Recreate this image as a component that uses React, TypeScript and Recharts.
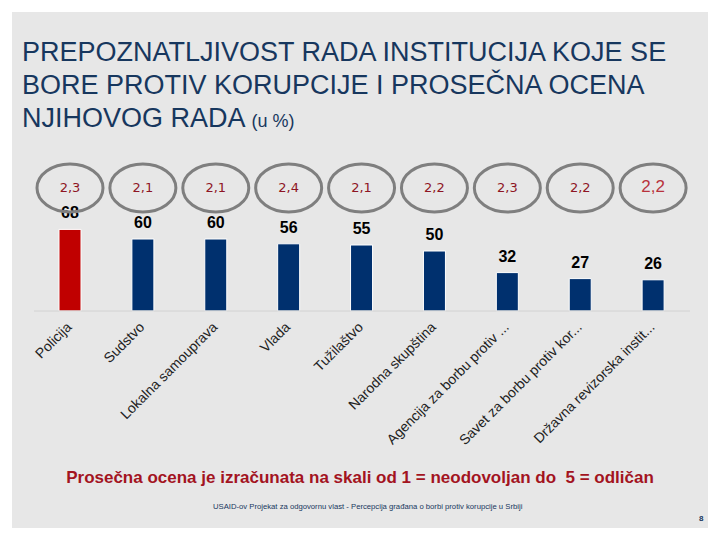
import { BarChart, Bar, XAxis, YAxis, Cell, LabelList } from 'recharts';

const CATEGORIES = [
  'Policija',
  'Sudstvo',
  'Lokalna samouprava',
  'Vlada',
  'Tužilaštvo',
  'Narodna skupština',
  'Agencija za borbu protiv ...',
  'Savet za borbu protiv kor...',
  'Državna revizorska instit...',
];
const RECOGNITION = [68, 60, 60, 56, 55, 50, 32, 27, 26];
const RATINGS = ['2,3', '2,1', '2,1', '2,4', '2,1', '2,2', '2,3', '2,2', '2,2'];

const NAVY = '#00306e';
const RED = '#c00000';
const TITLE_BLUE = '#17375e';
const SANS = '"Liberation Sans", Arial, sans-serif';

const data = CATEGORIES.map((name, i) => ({ name, value: RECOGNITION[i], rating: RATINGS[i] }));

const AngledTick = ({ x, y, payload }: any) => (
  <text
    transform={`translate(${x + 2},${y + 17}) rotate(-45)`}
    textAnchor="end"
    fontSize={14}
    fontFamily={SANS}
    fill="#222"
  >
    {payload.value}
  </text>
);

// gray ring with the average score, drawn over each bar
const RatingBubble = ({ x, width, value, index }: any) => {
  const cx = x + width / 2;
  const cy = 188;
  const last = index === RATINGS.length - 1;
  return (
    <g>
      <ellipse cx={cx} cy={cy} rx={33} ry={24} fill="none" stroke="#7f7f7f" strokeWidth={3} />
      <text
        x={cx}
        y={cy + 4}
        textAnchor="middle"
        fontSize={last ? 17 : 13}
        fontFamily={last ? SANS : '"DejaVu Sans", Verdana, sans-serif'}
        fill={last ? '#b8323c' : '#8e1524'}
      >
        {value}
      </text>
    </g>
  );
};

export default function App() {
  return (
    <div style={{ position: 'absolute', left: 0, top: 0, width: 720, height: 540, background: '#fff', overflow: 'hidden' }}>
      <div style={{ position: 'absolute', left: 12, top: 12, width: 696, height: 516, background: '#e7e7e7' }} />
      <div
        style={{
          position: 'absolute',
          left: 22,
          top: 36,
          fontFamily: SANS,
          fontSize: 27,
          lineHeight: '33px',
          color: TITLE_BLUE,
          whiteSpace: 'pre',
        }}
      >
        <div>PREPOZNATLJIVOST RADA INSTITUCIJA KOJE SE</div>
        <div>BORE PROTIV KORUPCIJE I PROSEČNA OCENA</div>
        <div>
          NJIHOVOG RADA <span style={{ fontSize: 18 }}>(u %)</span>
        </div>
      </div>

      <div style={{ position: 'absolute', left: 0, top: 0 }}>
        <BarChart width={720} height={540} data={data} margin={{ top: 191, right: 30, bottom: 169, left: 34 }}>
          <XAxis
            dataKey="name"
            interval={0}
            height={60}
            tickSize={0}
            tickMargin={0}
            tickLine={false}
            axisLine={{ stroke: '#d2d2d2' }}
            tick={<AngledTick />}
          />
          <YAxis hide domain={[0, 100]} />
          <Bar dataKey="value" barSize={22} stroke="#fff" strokeWidth={1} isAnimationActive={false}>
            {data.map((d, i) => (
              <Cell key={d.name} fill={i === 0 ? RED : NAVY} />
            ))}
            <LabelList
              dataKey="value"
              position="top"
              offset={11}
              fill="#000"
              fontSize={16}
              fontWeight="bold"
              fontFamily={SANS}
            />
            <LabelList dataKey="rating" content={<RatingBubble />} />
          </Bar>
        </BarChart>
      </div>

      <div
        style={{
          position: 'absolute',
          left: 0,
          width: 720,
          top: 468,
          textAlign: 'center',
          fontFamily: SANS,
          fontSize: 17,
          fontWeight: 'bold',
          lineHeight: '20px',
          color: '#a3141f',
          whiteSpace: 'pre',
        }}
      >
        {'Prosečna ocena je izračunata na skali od 1 = neodovoljan do  5 = odličan'}
      </div>
      <div
        style={{
          position: 'absolute',
          left: 213,
          top: 502,
          fontFamily: SANS,
          fontSize: 7.7,
          lineHeight: '9px',
          color: TITLE_BLUE,
          whiteSpace: 'pre',
        }}
      >
        USAID-ov Projekat za odgovornu vlast - Percepcija građana o borbi protiv korupcije u Srbiji
      </div>
      <div
        style={{
          position: 'absolute',
          left: 699,
          top: 514,
          fontFamily: SANS,
          fontSize: 8,
          fontWeight: 'bold',
          lineHeight: '10px',
          color: TITLE_BLUE,
        }}
      >
        8
      </div>
    </div>
  );
}
